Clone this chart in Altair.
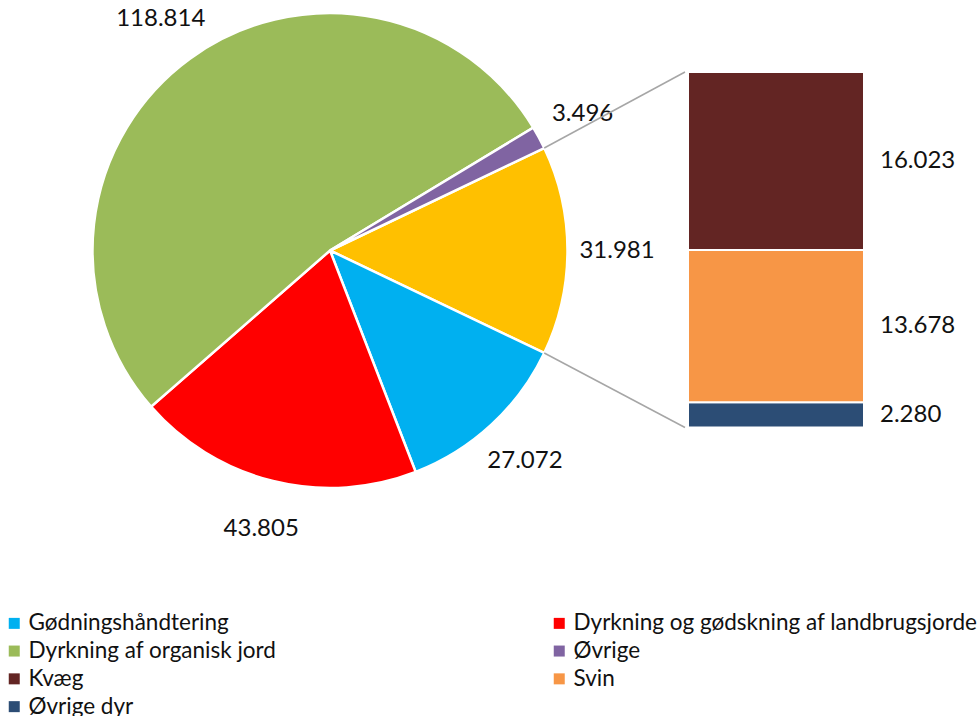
import math
import altair as alt
import pandas as pd

# ---------------- data ----------------
pie_names = [
    "Husdyrs fordøjelse",
    "Gødningshåndtering",
    "Dyrkning og gødskning af landbrugsjorde",
    "Dyrkning af organisk jord",
    "Øvrige",
]
pie_values = [31981, 27072, 43805, 118814, 3496]

bar_names = ["Øvrige dyr", "Svin", "Kvæg"]
bar_values = [2280, 13678, 16023]

legend_order = [
    "Gødningshåndtering",
    "Dyrkning og gødskning af landbrugsjorde",
    "Dyrkning af organisk jord",
    "Øvrige",
    "Kvæg",
    "Svin",
    "Øvrige dyr",
]

colors = {
    "Husdyrs fordøjelse": "#FFC000",
    "Gødningshåndtering": "#00B0F0",
    "Dyrkning og gødskning af landbrugsjorde": "#FF0000",
    "Dyrkning af organisk jord": "#9BBB59",
    "Øvrige": "#8064A2",
    "Kvæg": "#632523",
    "Svin": "#F79646",
    "Øvrige dyr": "#2C4D75",
}


def fmt(v):
    return f"{v:,}".replace(",", ".")


pie_df = pd.DataFrame({"name": pie_names, "value": pie_values, "ord": list(range(len(pie_names)))})
pie_df["label"] = pie_df["value"].map(fmt)
bar_df = pd.DataFrame({"name": bar_names, "value": bar_values, "ord": list(range(len(bar_names)))})
bar_df["label"] = bar_df["value"].map(fmt)

# ---------------- layout ----------------
W, H = 979, 716
CX, CY, R = 330, 250.5, 237.5
LABEL_R = 287
FONT = "Lato"
TXT = "#111111"

total = sum(pie_values)
first = pie_values[0]
a0 = math.pi / 2 - math.pi * first / total      # centre first slice on the right
a1 = a0 + 2 * math.pi * first / total

BAR_X0, BAR_X1 = 688, 864
BAR_TOP, BAR_BOTTOM = 72, 427.5
BAR_LABEL_X = 880

domain = pie_names + bar_names
color_scale = alt.Scale(domain=domain, range=[colors[n] for n in domain])
legend = alt.Legend(
    title=None, orient="none", legendX=3, legendY=612, columns=2,
    direction="horizontal",
    columnPadding=271, rowPadding=4.8, symbolType="square", symbolSize=121,
    symbolStrokeWidth=0, labelFont=FONT, labelFontSize=22.5, labelColor=TXT,
    labelLimit=900, labelOffset=3, values=legend_order,
)
color = alt.Color("name:N", scale=color_scale, legend=legend)

theta = alt.Theta("value:Q", stack=True, scale=alt.Scale(range=[a0, a0 + 2 * math.pi]))
pie_base = alt.Chart(pie_df).encode(
    theta=theta, order=alt.Order("ord:Q"), x=alt.value(CX), y=alt.value(CY)
)
arcs = pie_base.mark_arc(radius=R, stroke="white", strokeWidth=2.5).encode(color=color)
pie_labels = pie_base.mark_text(
    radius=LABEL_R, font=FONT, fontSize=24, color=TXT, align="center", baseline="middle"
).encode(text="label:N")

# connector lines from the first slice's edges to the bar's corners
conn_df = pd.DataFrame({
    "px": [CX + R * math.sin(a0), CX + R * math.sin(a1)],
    "py": [CY - R * math.cos(a0), CY - R * math.cos(a1)],
    "bx": [BAR_X0 - 3, BAR_X0 - 3],
    "by": [BAR_TOP, BAR_BOTTOM],
})
conn = alt.Chart(conn_df).mark_rule(color="#A6A6A6", strokeWidth=1.5).encode(
    x=alt.X("px:Q", scale=None), y=alt.Y("py:Q", scale=None),
    x2="bx:Q", y2="by:Q",
)

y_scale = alt.Scale(domain=[0, sum(bar_values)], range=[BAR_BOTTOM, BAR_TOP])
bar_base = alt.Chart(bar_df).transform_stack(
    stack="value", groupby=[], as_=["y0", "y1"], sort=[alt.SortField("ord")]
).transform_calculate(mid="(datum.y0 + datum.y1) / 2")
bars = bar_base.mark_bar(stroke="white", strokeWidth=2).encode(
    x=alt.value(BAR_X0), x2=alt.value(BAR_X1),
    y=alt.Y("y0:Q", scale=y_scale, axis=None), y2="y1:Q",
    color=color,
)
bar_labels = bar_base.mark_text(
    align="left", baseline="middle", font=FONT, fontSize=24, color=TXT
).encode(
    x=alt.value(BAR_LABEL_X),
    y=alt.Y("mid:Q", scale=y_scale, axis=None),
    text="label:N",
)

chart = alt.layer(arcs, pie_labels, conn, bars, bar_labels).properties(
    width=W, height=H, padding=0, background="white",
    autosize=alt.AutoSizeParams(type="none"),
).configure_view(stroke=None)

chart.save("out.html", embed_options={"renderer": "svg", "actions": False})
